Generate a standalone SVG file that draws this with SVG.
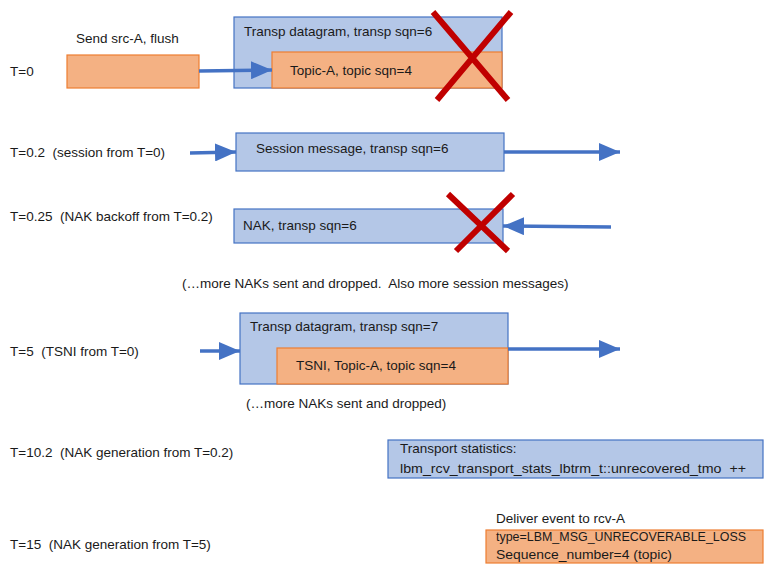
<svg xmlns="http://www.w3.org/2000/svg" width="768" height="576" viewBox="0 0 768 576">
<defs>
<style>
text{font-family:"Liberation Sans",Arial,sans-serif;font-size:13.5px;fill:#1a1a1a;white-space:pre}
.blue{fill:#B4C7E7;stroke:#4472C4;stroke-width:1.2}
.orange{fill:#F4B183;stroke:#ED7D31;stroke-width:1.2}
.arr{stroke:#4472C4;stroke-width:3.5;fill:none;marker-end:url(#ah)}
.x{stroke:#C00000;stroke-width:6;stroke-linecap:butt}
</style>
<marker id="ah" markerUnits="userSpaceOnUse" markerWidth="22" markerHeight="18" refX="21" refY="9" orient="auto">
<path d="M0,0 L21,9 L0,18 Z" fill="#4472C4"/>
</marker>
</defs>
<rect width="768" height="576" fill="#fff"/>
<g id="labels">
<text x="10" y="76">T=0</text>
<text x="10" y="157" xml:space="preserve">T=0.2  (session from T=0)</text>
<text x="10" y="221" xml:space="preserve">T=0.25  (NAK backoff from T=0.2)</text>
<text x="182" y="288" xml:space="preserve">(…more NAKs sent and dropped.  Also more session messages)</text>
<text x="10" y="356" xml:space="preserve">T=5  (TSNI from T=0)</text>
<text x="246" y="408">(…more NAKs sent and dropped)</text>
<text x="10" y="457" xml:space="preserve">T=10.2  (NAK generation from T=0.2)</text>
<text x="10" y="549" xml:space="preserve">T=15  (NAK generation from T=5)</text>
</g>
<g id="send">
<text x="76" y="43">Send src-A, flush</text>
<rect class="orange" x="67" y="55" width="132" height="33"/>
</g>
<g id="datagram6">
<rect class="blue" x="234" y="17" width="268" height="71"/>
<text x="244" y="36">Transp datagram, transp sqn=6</text>
<rect class="orange" x="272" y="52" width="230" height="36"/>
<text x="290" y="75">Topic-A, topic sqn=4</text>
</g>
<g id="session">
<rect class="blue" x="236" y="133" width="268" height="38"/>
<text x="256" y="153">Session message, transp sqn=6</text>
</g>
<g id="nak">
<rect class="blue" x="234" y="209" width="269" height="34"/>
<text x="243" y="230">NAK, transp sqn=6</text>
</g>
<g id="datagram7">
<rect class="blue" x="240" y="313" width="268" height="71"/>
<text x="250" y="331">Transp datagram, transp sqn=7</text>
<rect class="orange" x="277" y="348" width="231" height="36"/>
<text x="296" y="370">TSNI, Topic-A, topic sqn=4</text>
</g>
<g id="stats">
<rect class="blue" x="388" y="440" width="375" height="38"/>
<text x="400" y="453">Transport statistics:</text>
<text x="400" y="473" xml:space="preserve" textLength="346" lengthAdjust="spacingAndGlyphs">lbm_rcv_transport_stats_lbtrm_t::unrecovered_tmo  ++</text>
</g>
<g id="deliver">
<text x="496" y="523">Deliver event to rcv-A</text>
<rect class="orange" x="486" y="530" width="277" height="33"/>
<text x="496" y="541" textLength="250" lengthAdjust="spacingAndGlyphs">type=LBM_MSG_UNRECOVERABLE_LOSS</text>
<text x="496" y="559" textLength="176" lengthAdjust="spacingAndGlyphs">Sequence_number=4 (topic)</text>
</g>
<g id="connectors">
<path class="arr" d="M199,71 L272,70"/>
<path class="arr" d="M190,153 L236,152"/>
<path class="arr" d="M504,152 L620,152"/>
<path class="arr" d="M611,227 L503,226"/>
<path class="arr" d="M200,351 L240,351"/>
<path class="arr" d="M508,349 L620,349"/>
</g>
<g id="crosses">
<path class="x" d="M433,12 L508,100 M511,12 L437,100"/>
<path class="x" d="M448,194 L508,251 M513,194 L456,251"/>
</g>
</svg>
